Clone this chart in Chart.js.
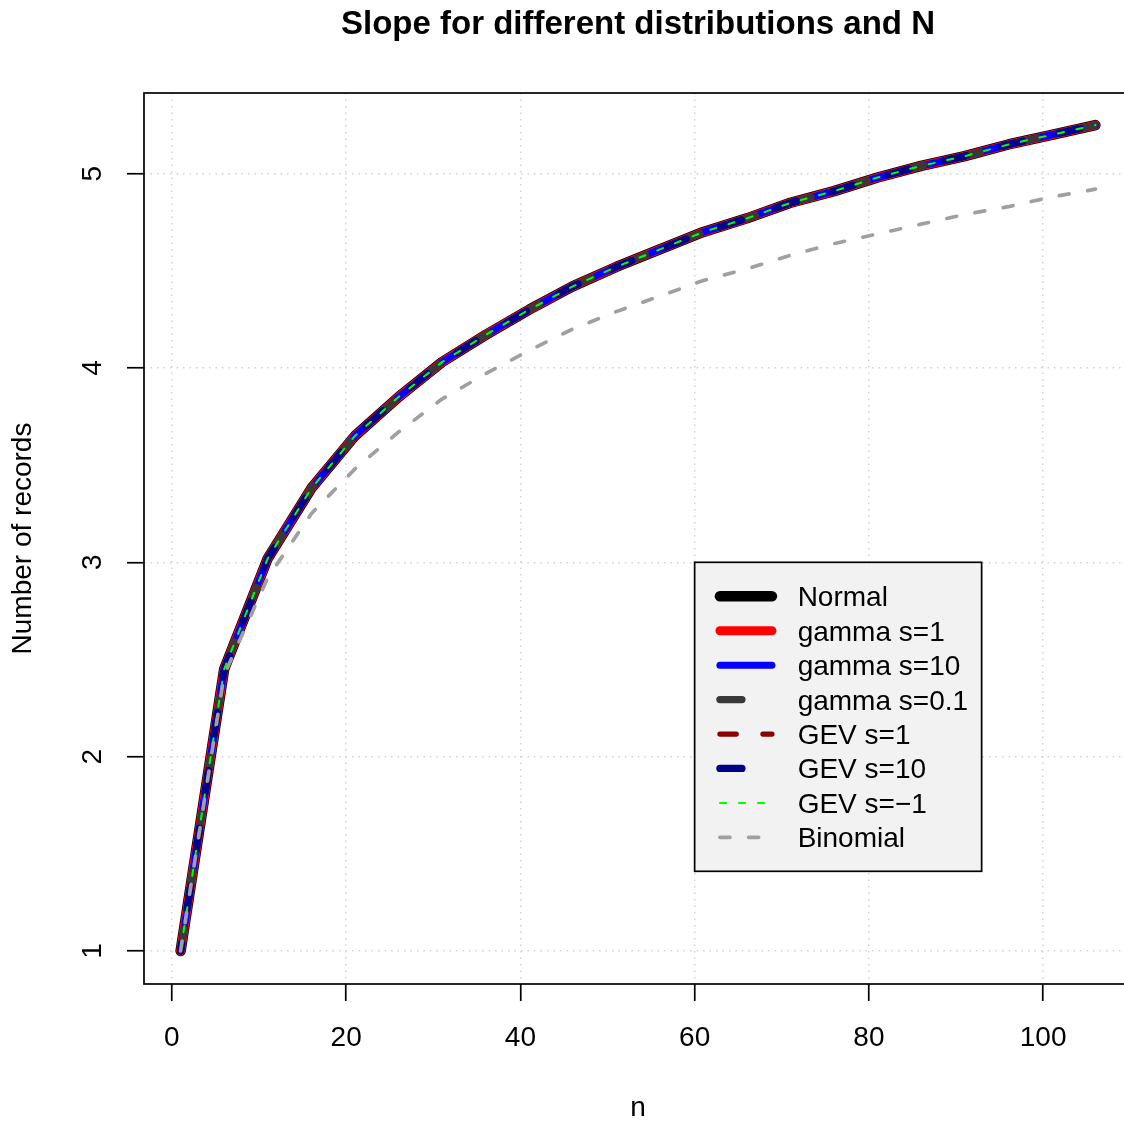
<!DOCTYPE html>
<html>
<head>
<meta charset="utf-8">
<title>Slope for different distributions and N</title>
<script src="https://cdn.jsdelivr.net/npm/chart.js@4.4.1/dist/chart.umd.min.js"></script>
<style>
  html, body { margin: 0; padding: 0; background: #fff; overflow: hidden; width: 1124px; height: 1124px; }
  canvas { display: block; }
</style>
</head>
<body>
<canvas id="grafico" width="1140" height="1124"></canvas>
<script>

// valores
const nValues = [1, 6, 11, 16, 21, 26, 31, 36, 41, 46, 51, 56, 61, 66, 71, 76, 81, 86, 91, 96, 101, 106]

// las 7 series simuladas caen una encima de otra
const simulatedRecords = [1.00, 2.45, 3.02, 3.38, 3.65, 3.85, 4.03, 4.17, 4.30, 4.42, 4.52,
                          4.61, 4.70, 4.77, 4.85, 4.91, 4.98, 5.04, 5.09, 5.15, 5.20, 5.25]

const binomialRecords = [1.00, 2.42, 2.92, 3.25, 3.48, 3.67, 3.84, 3.97, 4.09, 4.20, 4.29,
                         4.37, 4.45, 4.51, 4.58, 4.64, 4.69, 4.74, 4.79, 4.83, 4.88, 4.92]

const seriesNames = ["Normal", "gamma s=1", "gamma s=10", "gamma s=0.1", "GEV s=1", "GEV s=10", "GEV s=\u22121", "Binomial"]

const xTicks = [0, 20, 40, 60, 80, 100]
const yTicks = [1, 2, 3, 4, 5]

const fuente = '"Liberation Sans", Arial, Helvetica, sans-serif'

// estilo de cada linea (mismo orden que seriesNames); capa = orden de dibujo (0 abajo)
const estilos = [
  { color: "#000000", ancho: 10.5, dash: [],            capa: 0 },
  { color: "#ff0000", ancho: 9,    dash: [],            capa: 1 },
  { color: "#0000ff", ancho: 7,    dash: [],            capa: 3 },
  { color: "#383838", ancho: 7.3,  dash: [22, 36.5],    capa: 4 },
  { color: "#8b0000", ancho: 5.3,  dash: [16.3, 26.7],  capa: 2 },
  { color: "#00008b", ancho: 7.3,  dash: [22, 36.5],    capa: 5, offset: 15 },
  { color: "#00ff00", ancho: 2,    dash: [6.3, 12.7],   capa: 6 },
  { color: "#a0a0a0", ancho: 3.7,  dash: [10, 18.7],    capa: 7 }
]

function puntos(valores) {
  return nValues.map((n, i) => ({ x: n, y: valores[i] }))
}

const datasets = seriesNames.map((nombre, i) => {
  const e = estilos[i]
  const valores = nombre == "Binomial" ? binomialRecords : simulatedRecords
  return {
    label: nombre,
    data: puntos(valores),
    borderColor: e.color,
    backgroundColor: e.color,
    borderWidth: e.ancho,
    borderDash: e.dash,
    borderDashOffset: e.offset || 0,
    borderCapStyle: "round",
    borderJoinStyle: "round",
    pointRadius: 0,
    tension: 0,
    fill: false,
    order: seriesNames.length - e.capa
  }
})

// caja del grafico y leyenda al estilo R
const marcoYLeyenda = {
  id: "marcoYLeyenda",
  afterDatasetsDraw(chart) {
    const ctx = chart.ctx
    const a = chart.chartArea
    ctx.save()
    ctx.setLineDash([])
    ctx.strokeStyle = "#000"
    ctx.lineWidth = 1.7
    ctx.strokeRect(a.left, a.top, a.right - a.left, a.bottom - a.top)

    const lx = chart.scales.x.getPixelForValue(60)
    const ly = chart.scales.y.getPixelForValue(3)
    const w = 287, h = 309
    ctx.fillStyle = "#f2f2f2"
    ctx.fillRect(lx, ly, w, h)
    ctx.strokeRect(lx, ly, w, h)

    ctx.font = "28px " + fuente
    ctx.textBaseline = "alphabetic"
    ctx.textAlign = "left"
    chart.data.datasets.forEach((ds, i) => {
      const y = ly + 34 + i * 34.43
      ctx.beginPath()
      ctx.strokeStyle = ds.borderColor
      ctx.lineWidth = ds.borderWidth
      ctx.setLineDash(ds.borderDash)
      ctx.lineDashOffset = 0
      ctx.lineCap = "round"
      ctx.moveTo(lx + 25.3, y)
      ctx.lineTo(lx + 77.3, y)
      ctx.stroke()
      ctx.setLineDash([])
      ctx.fillStyle = "#000"
      ctx.fillText(ds.label, lx + 103, y + 10)
    })
    ctx.restore()
  }
}

Chart.defaults.font.family = fuente
Chart.defaults.font.size = 28
Chart.defaults.color = "#000"

const chart = new Chart(document.getElementById("grafico"), {
  type: "line",
  data: { datasets: datasets },
  options: {
    responsive: false,
    animation: false,
    events: [],
    layout: { padding: { left: 0, right: 8, top: 0, bottom: 0 } },
    plugins: {
      legend: { display: false },
      tooltip: { enabled: false },
      title: {
        display: true,
        text: "Slope for different distributions and N",
        fullSize: false,
        color: "#000",
        font: { size: 33, weight: "bold", lineHeight: 1.2 },
        padding: { top: 5, bottom: 48.4 }
      }
    },
    scales: {
      x: {
        type: "linear",
        min: -3.2,
        max: 110.2,
        afterFit: s => { s.height = 140 },
        afterBuildTicks: s => { s.ticks = xTicks.map(v => ({ value: v })) },
        ticks: { padding: 20.5, maxRotation: 0, font: { size: 28 }, color: "#000" },
        grid: {
          color: "#d3d3d3", lineWidth: 1.5, tickLength: 17,
          tickColor: "#000", tickWidth: 1.7, tickBorderDash: []
        },
        border: { display: false, dash: [1.5, 5] },
        title: { display: true, text: "n", font: { size: 28 }, padding: { top: 0, bottom: -1 }, color: "#000" }
      },
      y: {
        type: "linear",
        min: 0.83,
        max: 5.415,
        afterFit: s => { s.width = 144 },
        afterBuildTicks: s => { s.ticks = yTicks.map(v => ({ value: v })) },
        ticks: { padding: 25.6, minRotation: 90, maxRotation: 90, crossAlign: "center", font: { size: 28 }, color: "#000" },
        grid: {
          color: "#d3d3d3", lineWidth: 1.5, tickLength: 17,
          tickColor: "#000", tickWidth: 1.7, tickBorderDash: []
        },
        border: { display: false, dash: [1.5, 5] },
        title: { display: true, text: "Number of records", font: { size: 28 }, padding: { top: 6.5, bottom: 0 }, color: "#000" }
      }
    }
  },
  plugins: [marcoYLeyenda]
})
</script>
</body>
</html>
